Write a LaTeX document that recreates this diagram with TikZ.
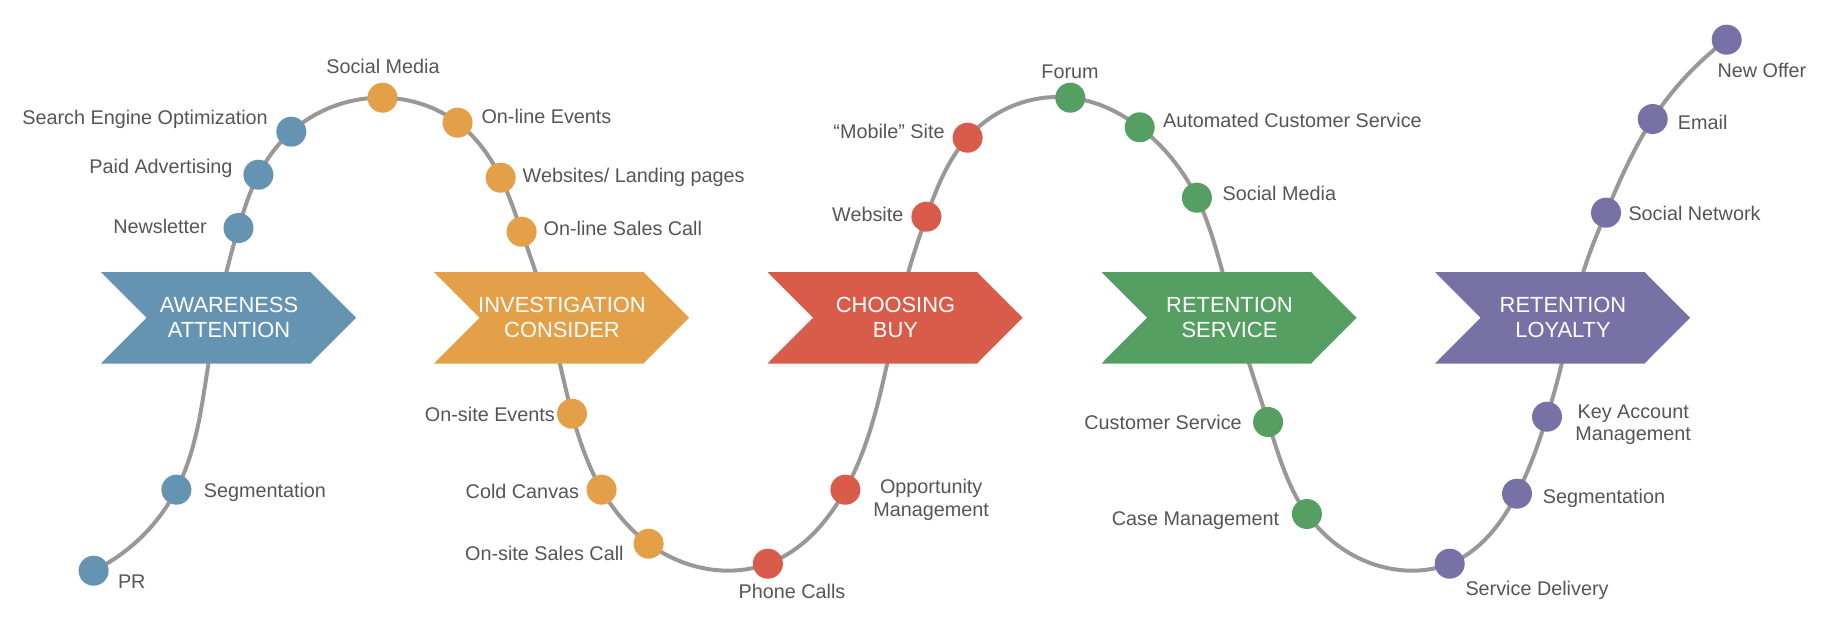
\documentclass[tikz,border=0pt]{standalone}
\usepackage{fontspec}
\setmainfont{Liberation Sans}
\usetikzlibrary{hobby}
\definecolor{cblue}{RGB}{101,148,179}
\definecolor{corange}{RGB}{227,160,72}
\definecolor{cred}{RGB}{217,91,73}
\definecolor{cgreen}{RGB}{85,159,98}
\definecolor{cpurple}{RGB}{120,113,166}
\definecolor{cline}{RGB}{156,151,151}
\definecolor{ctext}{RGB}{85,85,85}
\pgfdeclarelayer{bg}
\pgfsetlayers{bg,main}
\tikzset{
  dot/.style={circle, fill=#1, minimum size=30pt, inner sep=0pt},
  lbl/.style={text=ctext, font=\fontsize{19.8}{22.3}\selectfont, inner sep=0pt},
  lbltwo/.style={lbl, align=center},
  chevtext/.style={text=white, font=\fontsize{21.9}{25.8}\selectfont, align=center, inner sep=0pt},
  curve/.style={draw=cline, line width=4pt},
}
\newcommand\mychev[4]{%
  \fill[#3] (#2,272) -- ++(209.5,0) -- ++(45.5,45.75) -- ++(-45.5,45.75) -- ++(-209.5,0) -- ++(45.5,-45.75) -- cycle;
  \node[chevtext] (#1) at (#2+128,317.4) {#4};
}
\begin{document}
\begin{tikzpicture}[x=1pt,y=-1pt]
\useasboundingbox (0,0) rectangle (1824,624);
% dots
\node[dot=cblue] (b1) at (93.6,570.7) {};
\node[dot=cblue] (b2) at (176.4,489.7) {};
\node[dot=cblue] (b3) at (238.5,228) {};
\node[dot=cblue] (b4) at (258.4,174.7) {};
\node[dot=cblue] (b5) at (291.3,131.7) {};
\node[dot=corange] (o1) at (382.5,97.7) {};
\node[dot=corange] (o2) at (457.6,122.7) {};
\node[dot=corange] (o3) at (500.7,177.7) {};
\node[dot=corange] (o4) at (521.6,231.7) {};
\node[dot=corange] (o5) at (572,413.7) {};
\node[dot=corange] (o6) at (601.6,489.7) {};
\node[dot=corange] (o7) at (648.6,543.7) {};
\node[dot=cred] (r1) at (767.9,563.7) {};
\node[dot=cred] (r2) at (845.4,489.7) {};
\node[dot=cred] (r3) at (926.4,216.7) {};
\node[dot=cred] (r4) at (967.6,137.7) {};
\node[dot=cgreen] (g1) at (1070.3,97.7) {};
\node[dot=cgreen] (g2) at (1139.7,127.3) {};
\node[dot=cgreen] (g3) at (1196.9,197.7) {};
\node[dot=cgreen] (g4) at (1268.1,422) {};
\node[dot=cgreen] (g5) at (1306.9,514) {};
\node[dot=cpurple] (p1) at (1449.7,563.7) {};
\node[dot=cpurple] (p2) at (1517,493.7) {};
\node[dot=cpurple] (p3) at (1547,416.7) {};
\node[dot=cpurple] (p4) at (1606,212.7) {};
\node[dot=cpurple] (p5) at (1652.7,119) {};
\node[dot=cpurple] (p6) at (1726.7,39.7) {};
% pass-through points
\coordinate (aout) at (208.4,363.7);
\coordinate (ain) at (226.4,272);
\coordinate (iin) at (535.6,272);
\coordinate (iout) at (559.9,363.7);
\coordinate (t1) at (722,570.5);
\coordinate (cout) at (887.1,363.7);
\coordinate (cin) at (908.4,272);
\coordinate (sin) at (1222.5,272);
\coordinate (sout) at (1249.2,363.7);
\coordinate (t2) at (1402.9,570.3);
\coordinate (lout) at (1561.7,363.7);
\coordinate (lin) at (1583.3,272);
\begin{pgfonlayer}{bg}
\draw[curve, use Hobby shortcut] (b1.center) .. (b2.center) .. (aout) .. (ain) .. (b3.center) .. (b4.center) .. (b5.center) .. (o1.center) .. (o2.center) .. (o3.center) .. (o4.center) .. (iin) .. (iout) .. (o5.center) .. (o6.center) .. (o7.center) .. (t1) .. (r1.center) .. (r2.center) .. (cout) .. (cin) .. (r3.center) .. (r4.center) .. (g1.center) .. (g2.center) .. (g3.center) .. (sin) .. (sout) .. (g4.center) .. (g5.center) .. (t2) .. (p1.center) .. (p2.center) .. (p3.center) .. (lout) .. (lin) .. (p4.center) .. (p5.center) .. (p6.center);
\end{pgfonlayer}
% chevrons
\mychev{aw}{101}{cblue}{AWARENESS\\ATTENTION}
\mychev{iv}{434}{corange}{INVESTIGATION\\CONSIDER}
\mychev{ch}{767.5}{cred}{CHOOSING\\BUY}
\mychev{rs}{1101.5}{cgreen}{RETENTION\\SERVICE}
\mychev{rl}{1435}{cpurple}{RETENTION\\LOYALTY}
% labels
\node[lbl, anchor=base west] (lb1) at (117.8,588) {PR};
\node[lbl, anchor=base west] (lb2) at (203.6,497.3) {Segmentation};
\node[lbl, anchor=base east] (lb3) at (207,233.7) {Newsletter};
\node[lbl, anchor=base east] (lb4) at (232.7,173.7) {Paid Advertising};
\node[lbl, anchor=base east] (lb5) at (268,124.7) {Search Engine Optimization};
\node[lbl, anchor=base] (lo1) at (383,73.3) {Social Media};
\node[lbl, anchor=base west] (lo2) at (481.3,123.7) {On-line Events};
\node[lbl, anchor=base west] (lo3) at (522.5,182.7) {Websites/ Landing pages};
\node[lbl, anchor=base west] (lo4) at (543.4,235.3) {On-line Sales Call};
\node[lbl, anchor=base east] (lo5) at (555,421.3) {On-site Events};
\node[lbl, anchor=base east] (lo6) at (579.3,498) {Cold Canvas};
\node[lbl, anchor=base east] (lo7) at (623.8,560.7) {On-site Sales Call};
\node[lbl, anchor=base] (lr1) at (792,598.3) {Phone Calls};
\node[lbltwo] (lr2) at (931.2,500) {Opportunity\\Management};
\node[lbl, anchor=base east] (lr3) at (903.6,221.3) {Website};
\node[lbl, anchor=base east] (lr4) at (944.8,138) {“Mobile” Site};
\node[lbl, anchor=base] (lg1) at (1070,78.7) {Forum};
\node[lbl, anchor=base west] (lg2) at (1162.9,127.7) {Automated Customer Service};
\node[lbl, anchor=base west] (lg3) at (1222.5,200.3) {Social Media};
\node[lbl, anchor=base east] (lg4) at (1241.9,429) {Customer Service};
\node[lbl, anchor=base east] (lg5) at (1279.3,525) {Case Management};
\node[lbl, anchor=base west] (lp1) at (1465.3,595.7) {Service Delivery};
\node[lbl, anchor=base west] (lp2) at (1542.7,503) {Segmentation};
\node[lbltwo] (lp3) at (1633.2,424.5) {Key Account\\Management};
\node[lbl, anchor=base west] (lp4) at (1628.3,220.3) {Social Network};
\node[lbl, anchor=base west] (lp5) at (1677.7,129.7) {Email};
\node[lbl, anchor=base west] (lp6) at (1717.3,77.7) {New Offer};
\end{tikzpicture}
\end{document}
